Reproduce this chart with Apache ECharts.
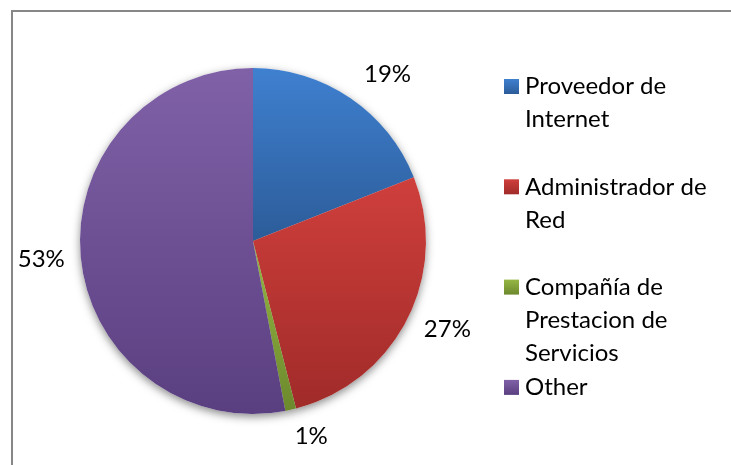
<!DOCTYPE html>
<html>
<head>
<meta charset="utf-8">
<script src="https://cdn.jsdelivr.net/npm/echarts@6/dist/echarts.min.js"></script>
<style>
  html, body { margin: 0; padding: 0; background: #ffffff; }
  #chart { width: 731px; height: 465px; }
</style>
</head>
<body>
<div id="chart"></div>
<script>
// Categories and their shares (percent)
const categories = ['Proveedor de\nInternet', 'Administrador de\nRed', 'Compañía de\nPrestacion de\nServicios', 'Other'];
const values = [19, 27, 1, 53];
// Top / bottom stops of each slice's vertical gradient
const topColors = ['#3f80d0', '#cf3f3c', '#95b744', '#8061a8'];
const bottomColors = ['#2c5c99', '#a02b29', '#6c892d', '#5a3f80'];
// How far each percentage label sits beyond the rim
const labelGaps = [28, 21, 27, 18];

const FONT = 'Lato, "Liberation Sans", sans-serif';

function grad(i) {
  return new echarts.graphic.LinearGradient(0, 0, 0, 1, [
    { offset: 0, color: topColors[i] },
    { offset: 1, color: bottomColors[i] }
  ]);
}

const sliceData = categories.map((name, i) => ({
  name: name,
  value: values[i],
  itemStyle: { color: grad(i) },
  labelLine: { length: labelGaps[i], length2: 0 }
}));

const center = [253, 241];
const radius = 173;

// Legend: square swatch plus wrapped caption per item
const legendItems = [];
categories.forEach((name, i) => {
  const top = 79 + i * 100.3;
  legendItems.push({
    type: 'rect',
    shape: { x: 504, y: top, width: 15, height: 15 },
    style: { fill: grad(i) }
  });
  legendItems.push({
    type: 'text',
    x: 525,
    y: top + 7.5 - 16.5,
    style: {
      text: name,
      font: '24px ' + FONT,
      fill: '#000000',
      lineHeight: 33,
      verticalAlign: 'top',
      align: 'left'
    }
  });
});

const chart = echarts.init(document.getElementById('chart'), null, { renderer: 'canvas' });
chart.setOption({
  animation: false,
  backgroundColor: '#ffffff',
  graphic: [
    {
      type: 'rect',
      shape: { x: 12, y: 11, width: 800, height: 600 },
      style: { fill: 'none', stroke: '#878787', lineWidth: 2 },
      z: 0
    }
  ].concat(legendItems),
  series: [
    {
      // soft drop shadow under the pie
      type: 'pie',
      silent: true,
      center: center,
      radius: radius,
      startAngle: 90,
      z: 1,
      label: { show: false },
      labelLine: { show: false },
      data: values.map((v) => ({ value: v })),
      itemStyle: {
        color: '#ffffff',
        shadowBlur: 8,
        shadowOffsetY: 3,
        shadowColor: 'rgba(0,0,0,0.45)'
      }
    },
    {
      type: 'pie',
      center: center,
      radius: radius,
      startAngle: 90,
      clockwise: true,
      z: 2,
      itemStyle: { borderWidth: 0 },
      label: {
        show: true,
        position: 'outside',
        formatter: '{c}%',
        color: '#000000',
        fontSize: 24,
        fontFamily: FONT,
        overflow: 'none',
        distanceToLabelLine: -2
      },
      labelLine: { show: false, length: 28, length2: 0 },
      data: sliceData
    }
  ]
});
</script>
</body>
</html>
